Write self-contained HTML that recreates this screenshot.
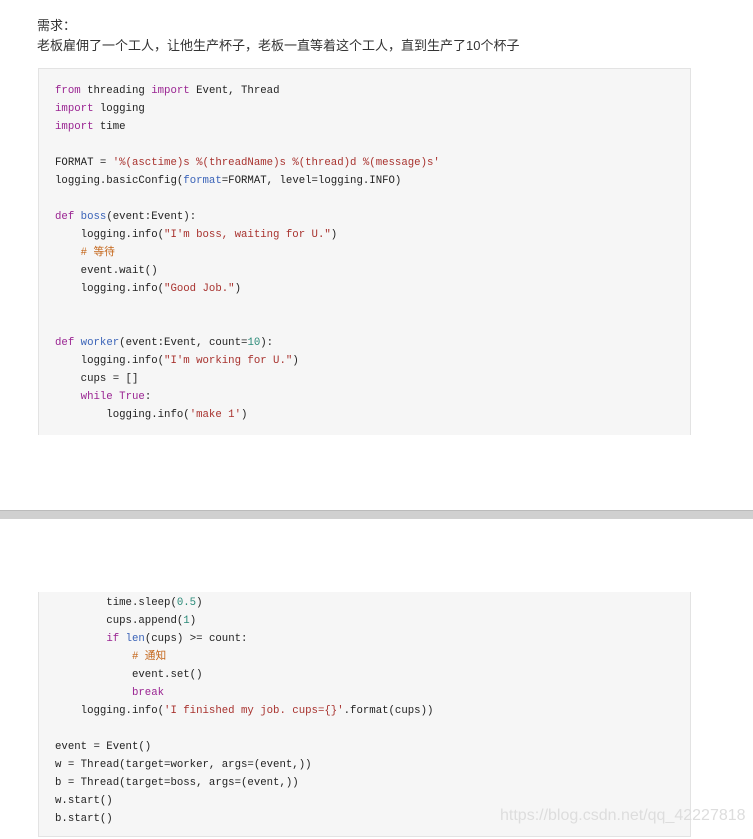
<!DOCTYPE html>
<html><head><meta charset="utf-8"><style>
body{margin:0;width:753px;height:839px;background:#fff;position:relative;overflow:hidden;font-family:"Liberation Sans","Noto Sans CJK SC",sans-serif;}
.t{position:absolute;left:37px;font-size:13px;color:#333;}
.box{position:absolute;left:38px;width:651px;background:#f6f6f6;border:1px solid #e3e3e3;}
pre{margin:0;position:absolute;left:16px;font-family:"Liberation Mono","Noto Sans CJK SC",monospace;font-size:10.7px;line-height:18px;color:#222;}
.k{color:#9a2492}.f{color:#3a63b8}.s{color:#a8322e}.n{color:#2a8a78}.c{color:#c4661a}
.sep{position:absolute;left:0;width:753px;top:510px;height:8px;background:#d0d0d0;border-top:1px solid #bbb;}
.wm{position:absolute;left:500px;top:807px;font-size:16px;color:#ddd;}
</style></head><body>
<div class="t" style="top:15px">需求：</div>
<div class="t" style="top:35px">老板雇佣了一个工人，让他生产杯子，老板一直等着这个工人，直到生产了10个杯子</div>
<div class="box" style="top:68px;height:366px;border-bottom:none">
<pre style="top:13px"><span class="k">from</span> threading <span class="k">import</span> Event, Thread
<span class="k">import</span> logging
<span class="k">import</span> time

FORMAT = <span class="s">'%(asctime)s %(threadName)s %(thread)d %(message)s'</span>
logging.basicConfig(<span class="f">format</span>=FORMAT, level=logging.INFO)

<span class="k">def</span> <span class="f">boss</span>(event:Event):
    logging.info(<span class="s">"I'm boss, waiting for U."</span>)
    <span class="c"># 等待</span>
    event.wait()
    logging.info(<span class="s">"Good Job."</span>)


<span class="k">def</span> <span class="f">worker</span>(event:Event, count=<span class="n">10</span>):
    logging.info(<span class="s">"I'm working for U."</span>)
    cups = []
    <span class="k">while</span> <span class="k">True</span>:
        logging.info(<span class="s">'make 1'</span>)</pre>
</div>
<div class="sep"></div>
<div class="box" style="top:592px;height:244px;border-top:none">
<pre style="top:2px">        time.sleep(<span class="n">0.5</span>)
        cups.append(<span class="n">1</span>)
        <span class="k">if</span> <span class="f">len</span>(cups) &gt;= count:
            <span class="c"># 通知</span>
            event.set()
            <span class="k">break</span>
    logging.info(<span class="s">'I finished my job. cups={}'</span>.format(cups))

event = Event()
w = Thread(target=worker, args=(event,))
b = Thread(target=boss, args=(event,))
w.start()
b.start()</pre>
</div>
<div class="wm">https://blog.csdn.net/qq_42227818</div>
</body></html>
